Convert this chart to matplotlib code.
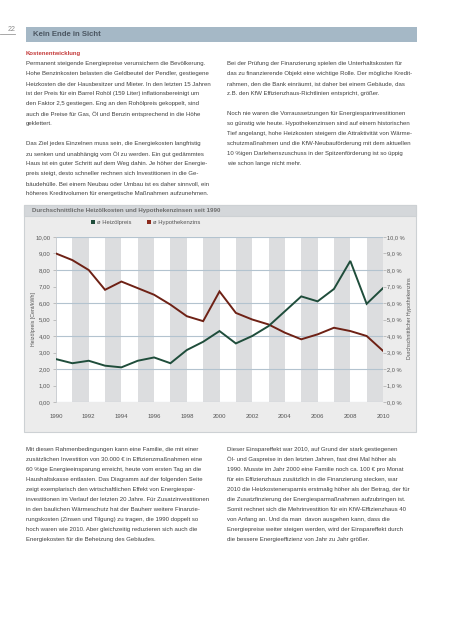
import matplotlib
matplotlib.use("Agg")
import matplotlib.pyplot as plt
from matplotlib.patches import Rectangle
from matplotlib.lines import Line2D

W, H = 453, 640

# data
years = list(range(1990, 2011))
heizoel = [2.6, 2.35, 2.5, 2.2, 2.1, 2.5, 2.7, 2.35, 3.15, 3.65, 4.3,
           3.55, 4.0, 4.6, 5.5, 6.4, 6.1, 6.85, 8.55, 5.95, 6.9]
zins = [9.0, 8.6, 8.0, 6.8, 7.3, 6.9, 6.5, 5.9, 5.2, 4.9, 6.7,
        5.4, 5.0, 4.7, 4.2, 3.8, 4.1, 4.5, 4.3, 4.0, 3.1]
y_ticks = list(range(0, 11))
x_labels = list(range(1990, 2011, 2))

page_no = "22"
header = "Kein Ende in Sicht"
heading = "Kostenentwicklung"
chart_title = "Durchschnittliche Heizölkosten und Hypothekenzinsen seit 1990"
legend_labels = ["ø Heizölpreis", "ø Hypothekenzins"]
ylabel_left = "Heizölpreis [Cent/kWh]"
ylabel_right = "Durchschnittlicher Hypothekenzins"

col1_top = [
    "Permanent steigende Energiepreise verunsichern die Bevölkerung.",
    "Hohe Benzinkosten belasten die Geldbeutel der Pendler, gestiegene",
    "Heizkosten die der Hausbesitzer und Mieter. In den letzten 15 Jahren",
    "ist der Preis für ein Barrel Rohöl (159 Liter) inflationsbereinigt um",
    "den Faktor 2,5 gestiegen. Eng an den Rohölpreis gekoppelt, sind",
    "auch die Preise für Gas, Öl und Benzin entsprechend in die Höhe",
    "geklettert.",
    "",
    "Das Ziel jedes Einzelnen muss sein, die Energiekosten langfristig",
    "zu senken und unabhängig vom Öl zu werden. Ein gut gedämmtes",
    "Haus ist ein guter Schritt auf dem Weg dahin. Je höher der Energie-",
    "preis steigt, desto schneller rechnen sich Investitionen in die Ge-",
    "bäudehülle. Bei einem Neubau oder Umbau ist es daher sinnvoll, ein",
    "höheres Kreditvolumen für energetische Maßnahmen aufzunehmen.",
]
col2_top = [
    "Bei der Prüfung der Finanzierung spielen die Unterhaltskosten für",
    "das zu finanzierende Objekt eine wichtige Rolle. Der mögliche Kredit-",
    "rahmen, den die Bank einräumt, ist daher bei einem Gebäude, das",
    "z.B. den KfW Effizienzhaus-Richtlinien entspricht, größer.",
    "",
    "Noch nie waren die Vorraussetzungen für Energiesparinvestitionen",
    "so günstig wie heute. Hypothekenzinsen sind auf einem historischen",
    "Tief angelangt, hohe Heizkosten steigern die Attraktivität von Wärme-",
    "schutzmaßnahmen und die KfW-Neubauförderung mit dem aktuellen",
    "10 %igen Darlehenszuschuss in der Spitzenförderung ist so üppig",
    "wie schon lange nicht mehr.",
]
col1_bottom = [
    "Mit diesen Rahmenbedingungen kann eine Familie, die mit einer",
    "zusätzlichen Investition von 30.000 € in Effizienzmaßnahmen eine",
    "60 %ige Energieeinsparung erreicht, heute vom ersten Tag an die",
    "Haushaltskasse entlasten. Das Diagramm auf der folgenden Seite",
    "zeigt exemplarisch den wirtschaftlichen Effekt von Energiespar-",
    "investitionen im Verlauf der letzten 20 Jahre. Für Zusatzinvestitionen",
    "in den baulichen Wärmeschutz hat der Bauherr weitere Finanzie-",
    "rungskosten (Zinsen und Tilgung) zu tragen, die 1990 doppelt so",
    "hoch waren wie 2010. Aber gleichzeitig reduzieren sich auch die",
    "Energiekosten für die Beheizung des Gebäudes.",
]
col2_bottom = [
    "Dieser Einspareffekt war 2010, auf Grund der stark gestiegenen",
    "Öl- und Gaspreise in den letzten Jahren, fast drei Mal höher als",
    "1990. Musste im Jahr 2000 eine Familie noch ca. 100 € pro Monat",
    "für ein Effizienzhaus zusätzlich in die Finanzierung stecken, war",
    "2010 die Heizkostenersparnis erstmalig höher als der Betrag, der für",
    "die Zusatzfinzierung der Energiesparmaßnahmen aufzubringen ist.",
    "Somit rechnet sich die Mehrinvestition für ein KfW-Effizienzhaus 40",
    "von Anfang an. Und da man  davon ausgehen kann, dass die",
    "Energiepreise weiter steigen werden, wird der Einspareffekt durch",
    "die bessere Energieeffizienz von Jahr zu Jahr größer.",
]

GREEN = "#1f4d3b"
RED = "#6e2115"
TXT = "#404040"
FONT = "Liberation Sans"
BODY = 4.35
plt.rcParams['font.family'] = [FONT, 'DejaVu Sans']


def fx(x):
    return x / W


def fy(y):
    return 1 - y / H


def rect(fig, x0, y0, x1, y1, **kw):
    # figure-level patches go under the axes
    kw.setdefault('zorder', -2)
    fig.add_artist(Rectangle((fx(x0), fy(y1)), fx(x1) - fx(x0), fy(y0) - fy(y1),
                             transform=fig.transFigure, **kw))


def block(fig, lines, x, y0, step=10.0):
    for i, s in enumerate(lines):
        if s:
            fig.text(fx(x), fy(y0 + i * step), s, fontsize=BODY, color=TXT,
                     va='center', ha='left')


fig = plt.figure(figsize=(W / 100, H / 100), dpi=100)
fig.patch.set_facecolor("white")

# page number + header bar
fig.text(fx(8), fy(29.5), page_no, fontsize=5, color="#8a8a8a", va='center')
fig.add_artist(Line2D([0, fx(15)], [fy(34), fy(34)], transform=fig.transFigure,
                      color="#9a9a9a", lw=0.6))
rect(fig, 26, 27, 417, 41.5, facecolor="#a5b8c6", edgecolor="none")
fig.text(fx(33), fy(34.5), header, fontsize=5.6, fontweight='bold',
         color="#4b5661", va='center')

# text columns
fig.text(fx(26), fy(54), heading, fontsize=BODY, fontweight='bold',
         color="#c43a3a", va='center')
block(fig, col1_top, 26, 64)
block(fig, col2_top, 227, 64)
block(fig, col1_bottom, 26, 449.5)
block(fig, col2_bottom, 227, 449.5)

# chart frame
rect(fig, 24, 205, 416, 432, facecolor="#ececec", edgecolor="#cdd1d4", lw=0.8)
rect(fig, 24, 205, 416, 215.5, facecolor="#d4d7da", edgecolor="#cdd1d4", lw=0.8,
     zorder=-1)
fig.text(fx(32), fy(210.5), chart_title, fontsize=4.4, fontweight='bold',
         color="#6c6c6c", va='center')

# legend
for (x, c, lab) in [(91, GREEN, legend_labels[0]), (147, "#8c2a1c", legend_labels[1])]:
    rect(fig, x, 220.5, x + 3.6, 224.1, facecolor=c, edgecolor="none", zorder=-1)
    fig.text(fx(x + 6), fy(222.5), lab, fontsize=4.2, color="#555555", va='center')

ax = fig.add_axes([fx(56), fy(402), fx(383) - fx(56), fy(237) - fy(402)])
ax.set_facecolor("white")
ax.set_xlim(1990, 2010)
ax.set_ylim(0, 10)
for yr in range(1991, 2010, 2):
    ax.axvspan(yr, yr + 1, color="#dcdddf", lw=0, zorder=0)
for v in range(0, 11, 2):
    ax.axhline(v, color="#b3c3cf", lw=0.8, zorder=1)
ax.plot(years, zins, color=RED, lw=1.4, zorder=3, solid_joinstyle='miter')
ax.plot(years, heizoel, color=GREEN, lw=1.4, zorder=3, solid_joinstyle='miter')

for s in ax.spines.values():
    s.set_visible(False)
ax.spines['left'].set_visible(True)
ax.spines['left'].set_color("#c4c8cc")
ax.spines['left'].set_linewidth(0.6)

ax.set_xticks(x_labels)
ax.set_xticklabels([str(x) for x in x_labels])
ax.tick_params(axis='x', length=0, pad=9, labelsize=4.3, labelcolor="#555555")
ax.set_yticks(y_ticks)
ax.set_yticklabels([f"{v:.2f}".replace('.', ',') for v in y_ticks])
ax.tick_params(axis='y', length=2, width=0.5, color="#aaaaaa", pad=2,
               labelsize=4.3, labelcolor="#555555")

ax2 = ax.twinx()
ax2.set_ylim(0, 10)
for s in ax2.spines.values():
    s.set_visible(False)
ax2.set_yticks(y_ticks)
ax2.set_yticklabels([f"{v:.1f} %".replace('.', ',') for v in y_ticks])
ax2.tick_params(axis='y', length=2, width=0.5, color="#aaaaaa", pad=1,
                labelsize=4.1, labelcolor="#555555")

fig.text(fx(33), fy(319.5), ylabel_left, rotation=90, fontsize=3.8,
         color="#555555", va='center', ha='center')
fig.text(fx(409), fy(318), ylabel_right, rotation=90, fontsize=3.8,
         color="#555555", va='center', ha='center')

fig.savefig("out.png", dpi=100)
